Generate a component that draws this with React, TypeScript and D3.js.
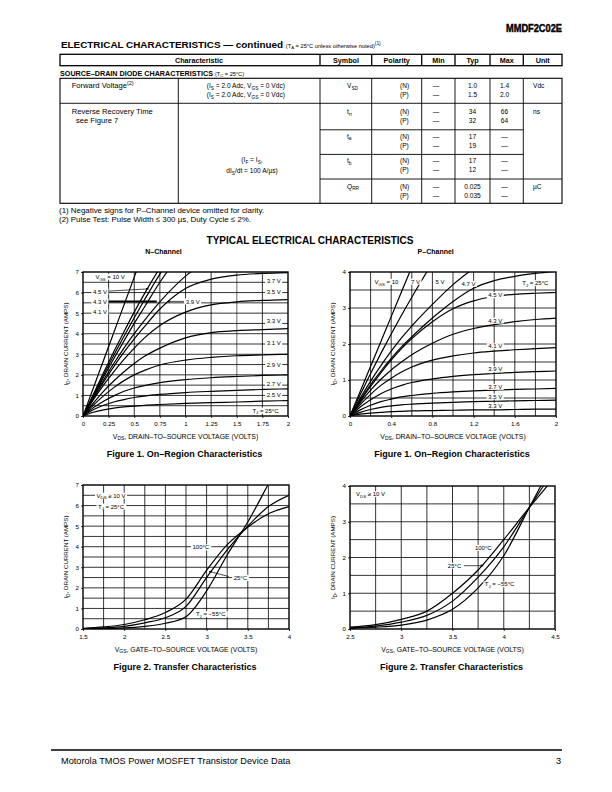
import React, { useEffect, useLayoutEffect, useRef, useState } from 'react'
import * as d3 from 'd3'

const FONT = "'Liberation Sans', Arial, Helvetica, sans-serif"

// Figure 1, N-channel on-region (VDS in volts, ID in amps)
const nOnVds = [0, 0.1, 0.2, 0.3, 0.4, 0.5, 0.6, 0.75, 1.0, 1.25, 1.5, 1.75, 2.0]
const nOn10 = [0, 1.35, 2.7, 4.05, 5.4, 6.75, 8.1]
const nOn45 = [0, 1.05, 2.1, 3.12, 4.1, 5.05, 5.95, 7.2, 9.0]
const nOn43 = [0, 1.0, 1.98, 2.95, 3.88, 4.78, 5.65, 6.9, 8.6]
const nOn41 = [0, 0.95, 1.88, 2.78, 3.65, 4.5, 5.3, 6.5, 8.2]
const nOn39 = [0, 0.9, 1.75, 2.55, 3.3, 4.0, 4.65, 5.55, 6.8, 7.7]
const nOn37 = [0, 0.85, 1.65, 2.4, 3.1, 3.75, 4.35, 5.2, 6.2, 6.65, 6.85, 6.93, 6.97]
const nOn35 = [0, 0.78, 1.5, 2.15, 2.75, 3.3, 3.8, 4.4, 5.05, 5.4, 5.55, 5.62, 5.66]
const nOn33 = [0, 0.62, 1.2, 1.7, 2.15, 2.55, 2.9, 3.3, 3.8, 4.05, 4.15, 4.2, 4.25]
const nOn31 = [0, 0.52, 0.98, 1.38, 1.72, 2.0, 2.22, 2.48, 2.72, 2.85, 2.93, 2.97, 3.0]
const nOn29 = [0, 0.4, 0.72, 0.98, 1.2, 1.36, 1.48, 1.62, 1.77, 1.86, 1.92, 1.97, 2.0]
const nOn27 = [0, 0.3, 0.52, 0.68, 0.8, 0.9, 0.97, 1.05, 1.14, 1.2, 1.25, 1.29, 1.32]
const nOn25 = [0, 0.18, 0.3, 0.38, 0.44, 0.48, 0.52, 0.56, 0.61, 0.65, 0.68, 0.72, 0.75]

// Figure 1, P-channel on-region
const pOnVds = [0, 0.1, 0.2, 0.3, 0.4, 0.5, 0.6, 0.8, 1.0, 1.2, 1.4, 1.6, 1.8, 2.0]
const pOn10 = [0, 0.69, 1.38, 2.07, 2.76, 3.45, 4.14, 5.5]
const pOn7 = [0, 0.6, 1.18, 1.74, 2.28, 2.8, 3.3, 4.25, 5.1]
const pOn5 = [0, 0.5, 0.97, 1.4, 1.8, 2.17, 2.5, 3.1, 3.65, 4.1, 4.5]
const pOn47 = [0, 0.45, 0.87, 1.25, 1.6, 1.92, 2.2, 2.72, 3.18, 3.55, 3.76, 3.88, 3.96, 4.02]
const pOn45 = [0, 0.42, 0.82, 1.2, 1.55, 1.87, 2.15, 2.62, 2.98, 3.2, 3.32, 3.38, 3.41, 3.43]
const pOn43 = [0, 0.38, 0.72, 1.02, 1.28, 1.5, 1.7, 2.02, 2.27, 2.43, 2.54, 2.62, 2.68, 2.72]
const pOn41 = [0, 0.32, 0.6, 0.85, 1.05, 1.22, 1.36, 1.55, 1.67, 1.75, 1.8, 1.84, 1.87, 1.9]
const pOn39 = [0, 0.25, 0.45, 0.62, 0.75, 0.85, 0.93, 1.03, 1.1, 1.15, 1.18, 1.21, 1.23, 1.25]
const pOn37 = [0, 0.17, 0.3, 0.4, 0.47, 0.53, 0.57, 0.63, 0.67, 0.7, 0.72, 0.74, 0.75, 0.77]
const pOn35 = [0, 0.1, 0.18, 0.24, 0.28, 0.31, 0.33, 0.36, 0.38, 0.4, 0.41, 0.42, 0.43, 0.44]
const pOn33 = [0, 0.05, 0.08, 0.1, 0.12, 0.13, 0.14, 0.15, 0.16, 0.17, 0.17, 0.18, 0.19, 0.19]

// Figure 2, transfer characteristics (VGS in volts, ID in amps)
const nTrVgs = [1.5, 1.75, 2.0, 2.25, 2.5, 2.75, 3.0, 3.25, 3.5, 3.75, 4.0]
const nTr100 = [0.03, 0.1, 0.22, 0.45, 0.8, 1.45, 2.85, 4.1, 4.95, 5.6, 5.95]
const nTr25 = [0.01, 0.05, 0.13, 0.3, 0.55, 1.1, 2.5, 3.85, 5.0, 5.95, 6.5]
const nTrM55 = [0.0, 0.02, 0.05, 0.13, 0.28, 0.6, 1.85, 3.6, 5.2, 7.05, 8.9]

const pTrVgs = [2.5, 2.75, 3.0, 3.25, 3.5, 3.75, 4.0, 4.25, 4.5]
const pTr100 = [0.05, 0.12, 0.27, 0.5, 1.0, 1.65, 2.5, 3.4, 4.25]
const pTr25 = [0.03, 0.08, 0.19, 0.38, 0.78, 1.45, 2.3, 3.4, 4.5]
const pTrM55 = [0.02, 0.05, 0.11, 0.25, 0.55, 1.15, 2.05, 3.4, 4.75]

// tick values
const nOnXTicks = [0, 0.25, 0.5, 0.75, 1, 1.25, 1.5, 1.75, 2]
const pOnXTicks = [0, 0.4, 0.8, 1.2, 1.6, 2]
const pOnXGrid = [0.2, 0.4, 0.6, 0.8, 1, 1.2, 1.4, 1.6, 1.8]
const nTrXTicks = [1.5, 2, 2.5, 3, 3.5, 4]
const nTrXGrid = [1.75, 2, 2.25, 2.5, 2.75, 3, 3.25, 3.5, 3.75]
const pTrXTicks = [2.5, 3, 3.5, 4, 4.5]
const pTrXGrid = [2.75, 3, 3.25, 3.5, 3.75, 4, 4.25]
const amps7 = [0, 1, 2, 3, 4, 5, 6, 7]
const amps4 = [0, 1, 2, 3, 4]
const halfAmps7 = [0.5, 1, 1.5, 2, 2.5, 3, 3.5, 4, 4.5, 5, 5.5, 6, 6.5]
const halfAmps4 = [0.5, 1, 1.5, 2, 2.5, 3, 3.5]

// text with _{sub} and ^{sup} markup
function rich(str: string, size: number) {
  const parts: React.ReactNode[] = []
  const re = /([_^])\{([^}]*)\}/g
  let last = 0
  let shift = 0
  let k = 0
  let m: RegExpExecArray | null
  while ((m = re.exec(str))) {
    if (m.index > last) {
      parts.push(<tspan key={k++} dy={-shift}>{str.slice(last, m.index)}</tspan>)
      shift = 0
    }
    const d = m[1] === '_' ? size * 0.28 : -size * 0.38
    parts.push(<tspan key={k++} dy={d - shift} fontSize={size * 0.72}>{m[2]}</tspan>)
    shift = d
    last = re.lastIndex
  }
  if (last < str.length) parts.push(<tspan key={k++} dy={-shift}>{str.slice(last)}</tspan>)
  return parts
}

function T({ x, y, t, size = 6.6, anchor = 'start', bold = false }: any) {
  return (
    <text x={x} y={y} fontSize={size} textAnchor={anchor} fontWeight={bold ? 'bold' : 'normal'} fontFamily={FONT} fill="#000">
      {rich(t, size)}
    </text>
  )
}

function BoxLabel({ x, y, t, size = 6 }: { x: number; y: number; t: string; size?: number }) {
  const ref = useRef<SVGTextElement>(null)
  const [bb, setBb] = useState<{ x: number; w: number } | null>(null)
  useLayoutEffect(() => {
    if (!ref.current) return
    const b = ref.current.getBBox()
    setBb({ x: b.x, w: b.width })
  }, [x, y, t])
  return (
    <g>
      {bb && <rect x={bb.x - 1.5} y={y - size * 0.5} width={bb.w + 3} height={size} fill="#fff" />}
      <text ref={ref} x={x} y={y + size * 0.35} fontSize={size} textAnchor="middle" fontFamily={FONT} fill="#000">
        {rich(t, size)}
      </text>
    </g>
  )
}

function Axis({ scale, orient, at, values }: any) {
  const ref = useRef<SVGGElement>(null)
  useEffect(() => {
    if (!ref.current) return
    const ax = (orient === 'left' ? d3.axisLeft(scale) : d3.axisBottom(scale))
      .tickValues(values)
      .tickFormat((d: d3.NumberValue) => String(+d))
      .tickSize(2)
      .tickPadding(orient === 'left' ? 2 : 4)
    const g = d3.select(ref.current)
    g.call(ax as any)
    g.attr('font-size', 6.2).attr('font-family', FONT)
    g.select('.domain').remove()
    g.selectAll('.tick line').attr('stroke', '#000').attr('stroke-width', 0.8)
    g.selectAll('.tick text').attr('fill', '#000')
  }, [scale, orient, values])
  const tr = orient === 'left' ? `translate(${at},0)` : `translate(0,${at})`
  return <g ref={ref} transform={tr} />
}

interface Curve { x: number[]; y: number[] }
interface Arrow { x1: number; y1: number; x2: number; y2: number; head?: boolean; w?: number }
interface PlotProps {
  id: string
  left: number
  top: number
  width: number
  height: number
  xDomain: [number, number]
  yDomain: [number, number]
  xGrid: number[]
  yGrid: number[]
  xTicks: number[]
  yTicks: number[]
  grayX?: number
  curves: Curve[]
  labels: { t: string; x: number; y: number }[]
  arrows?: Arrow[]
  xTitle: string
  caption: string
}

function Plot(p: PlotProps) {
  const x = d3.scaleLinear().domain(p.xDomain).range([p.left, p.left + p.width])
  const y = d3.scaleLinear().domain(p.yDomain).range([p.top + p.height, p.top])
  const line = d3
    .line<[number, number]>()
    .x((d) => x(d[0]))
    .y((d) => y(d[1]))
    .curve(d3.curveMonotoneX)
  const bottom = p.top + p.height
  const cx = p.left + p.width / 2
  return (
    <g>
      <defs>
        <clipPath id={`clip-${p.id}`}>
          <rect x={p.left} y={p.top} width={p.width} height={p.height} />
        </clipPath>
      </defs>
      {p.xGrid.map((v) => (
        <line key={`gx${v}`} x1={x(v)} x2={x(v)} y1={p.top} y2={bottom}
          stroke={p.grayX === v ? '#9c9c9c' : '#000'} strokeWidth={p.grayX === v ? 1.5 : 0.8} />
      ))}
      {p.yGrid.map((v) => (
        <line key={`gy${v}`} x1={p.left} x2={p.left + p.width} y1={y(v)} y2={y(v)} stroke="#000" strokeWidth={0.8} />
      ))}
      <g clipPath={`url(#clip-${p.id})`}>
        {p.curves.map((c, i) => (
          <path key={i} d={line(c.y.map((v, j) => [c.x[j], v] as [number, number])) ?? ''}
            fill="none" stroke="#000" strokeWidth={1.2} />
        ))}
      </g>
      {(p.arrows ?? []).map((a, i) => (
        <line key={`a${i}`} x1={x(a.x1)} y1={y(a.y1)} x2={x(a.x2)} y2={y(a.y2)} stroke="#000"
          strokeWidth={a.w ?? 0.7} markerEnd={a.head ? 'url(#arrowhead)' : undefined} />
      ))}
      {p.labels.map((l, i) => (
        <BoxLabel key={`l${i}`} x={x(l.x)} y={y(l.y)} t={l.t} />
      ))}
      <rect x={p.left} y={p.top} width={p.width} height={p.height} fill="none" stroke="#000" strokeWidth={1.4} />
      <Axis scale={y} orient="left" at={p.left} values={p.yTicks} />
      <Axis scale={x} orient="bottom" at={bottom} values={p.xTicks} />
      <g transform={`translate(${p.left - 15},${p.top + p.height / 2}) rotate(-90)`}>
        <T x={0} y={0} t="I_{D}, DRAIN CURRENT (AMPS)" size={6.2} anchor="middle" />
      </g>
      <T x={cx} y={bottom + 22.5} t={p.xTitle} size={6.9} anchor="middle" />
      <T x={cx - 1} y={bottom + 40.5} t={p.caption} size={9} anchor="middle" bold />
    </g>
  )
}

function Table() {
  const L = 60
  const R = 562
  const cols = [320, 371.7, 421.7, 455, 490, 523.3]
  const split = 178.3
  const bTop = 78.3
  const bBot = 203.3
  const rows: [string, number, number][] = [
    ['V_{SD}', 85.5, 94.5],
    ['t_{rr}', 111.7, 120.7],
    ['t_{a}', 136.2, 145.2],
    ['t_{b}', 160.8, 169.8],
    ['Q_{RR}', 186.3, 195.5],
  ]
  const typ = [['1.0', '1.5'], ['34', '32'], ['17', '19'], ['17', '12'], ['0.025', '0.035']]
  const max = [['1.4', '2.0'], ['66', '64'], ['—', '—'], ['—', '—'], ['—', '—']]
  const bl = 2.3
  return (
    <g>
      <text x={R} y={32} fontSize={11} textAnchor="end" fontWeight="bold" fontFamily={FONT}
        fill="#000" stroke="#000" strokeWidth={0.45} textLength={56} lengthAdjust="spacingAndGlyphs">MMDF2C02E</text>
      <text x={61} y={47.8} fontFamily={FONT} fill="#000">
        <tspan fontSize={9.9} fontWeight="bold">ELECTRICAL CHARACTERISTICS — continued </tspan>
        <tspan fontSize={5.7}>(T</tspan>
        <tspan fontSize={4.3} dy={1.5}>A</tspan>
        <tspan fontSize={5.7} dy={-1.5}> = 25°C unless otherwise noted)</tspan>
        <tspan fontSize={4.8} dy={-2.4}>(1)</tspan>
      </text>
      <rect x={L} y={54.3} width={R - L} height={11.4} fill="none" stroke="#000" strokeWidth={1.3} />
      {cols.map((c) => (
        <line key={`h${c}`} x1={c} x2={c} y1={54.3} y2={65.7} stroke="#000" strokeWidth={1.3} />
      ))}
      {[
        ['Characteristic', 199],
        ['Symbol', 346],
        ['Polarity', 396.7],
        ['Min', 438.4],
        ['Typ', 472.5],
        ['Max', 506.7],
        ['Unit', 542.7],
      ].map(([t, cx]) => (
        <T key={t as string} x={cx} y={62.8} t={t} size={7.2} anchor="middle" bold />
      ))}
      <text x={L} y={75.6} fontFamily={FONT} fill="#000">
        <tspan fontSize={7.2} fontWeight="bold">SOURCE–DRAIN DIODE CHARACTERISTICS </tspan>
        <tspan fontSize={5.6}>(T</tspan>
        <tspan fontSize={4.2} dy={1.4}>C</tspan>
        <tspan fontSize={5.6} dy={-1.4}> = 25°C)</tspan>
      </text>
      <rect x={L} y={bTop} width={R - L} height={bBot - bTop} fill="none" stroke="#000" strokeWidth={1.1} />
      {[split, ...cols].map((c) => (
        <line key={`v${c}`} x1={c} x2={c} y1={bTop} y2={bBot} stroke="#000" strokeWidth={0.9} />
      ))}
      <line x1={L} x2={R} y1={103.3} y2={103.3} stroke="#000" strokeWidth={0.9} />
      <line x1={320} x2={523.3} y1={129.8} y2={129.8} stroke="#000" strokeWidth={0.9} />
      <line x1={320} x2={523.3} y1={154.4} y2={154.4} stroke="#000" strokeWidth={0.9} />
      <line x1={320} x2={R} y1={179} y2={179} stroke="#000" strokeWidth={0.9} />
      <T x={71.7} y={85.5 + bl} t="Forward Voltage^{(2)}" size={7.6} />
      <T x={206.7} y={85.5 + bl} t="(I_{S} = 2.0 Adc, V_{GS} = 0 Vdc)" />
      <T x={206.7} y={94.5 + bl} t="(I_{S} = 2.0 Adc, V_{GS} = 0 Vdc)" />
      <T x={71.7} y={111.7 + bl} t="Reverse Recovery Time" size={7.6} />
      <T x={76} y={120.7 + bl} t="see Figure 7" size={7.6} />
      <T x={252} y={160 + bl} t="(I_{F} = I_{S}," anchor="middle" />
      <T x={252} y={171 + bl} t="dI_{S}/dt = 100 A/µs)" anchor="middle" />
      {rows.map(([sym, r1, r2], i) => (
        <g key={sym}>
          <T x={347} y={r1 + bl} t={sym} />
          <T x={400} y={r1 + bl} t="(N)" />
          <T x={400} y={r2 + bl} t="(P)" />
          <T x={436} y={r1 + bl} t="—" anchor="middle" />
          <T x={436} y={r2 + bl} t="—" anchor="middle" />
          <T x={472.5} y={r1 + bl} t={typ[i][0]} anchor="middle" />
          <T x={472.5} y={r2 + bl} t={typ[i][1]} anchor="middle" />
          <T x={504.5} y={r1 + bl} t={max[i][0]} anchor="middle" />
          <T x={504.5} y={r2 + bl} t={max[i][1]} anchor="middle" />
        </g>
      ))}
      <T x={533} y={85.5 + bl} t="Vdc" />
      <T x={533} y={111.7 + bl} t="ns" />
      <T x={533} y={186.3 + bl} t="µC" />
      <T x={59} y={212.8} t="(1)  Negative signs for P–Channel device omitted for clarity." size={7.9} />
      <T x={59} y={221.8} t="(2)  Pulse Test: Pulse Width ≤ 300 µs, Duty Cycle ≤ 2%." size={7.9} />
    </g>
  )
}

export default function App() {
  useEffect(() => {
    document.body.style.margin = '0'
  }, [])
  const nOn = [nOn10, nOn45, nOn43, nOn41, nOn39, nOn37, nOn35, nOn33, nOn31, nOn29, nOn27, nOn25]
  const pOn = [pOn10, pOn7, pOn5, pOn47, pOn45, pOn43, pOn41, pOn39, pOn37, pOn35, pOn33]
  return (
    <svg width={612} height={792} viewBox="0 0 612 792" style={{ display: 'block', background: '#fff' }}>
      <defs>
        <marker id="arrowhead" viewBox="0 0 10 10" refX="9" refY="5" markerWidth="5" markerHeight="4" orient="auto">
          <path d="M0,0 L10,5 L0,10 z" fill="#000" />
        </marker>
      </defs>
      <rect width={612} height={792} fill="#fff" />
      <Table />
      <T x={310} y={244} t="TYPICAL ELECTRICAL CHARACTERISTICS" size={10} anchor="middle" bold />
      <T x={163.5} y={253.8} t="N–Channel" size={7} anchor="middle" bold />
      <T x={435.7} y={253.8} t="P–Channel" size={7} anchor="middle" bold />

      <Plot
        id="non"
        left={83} top={272} width={205} height={144}
        xDomain={[0, 2]} yDomain={[0, 7]}
        xGrid={nOnXTicks.slice(1, -1)} yGrid={halfAmps7}
        xTicks={nOnXTicks} yTicks={amps7}
        grayX={1.5}
        curves={nOn.map((v) => ({ x: nOnVds, y: v }))}
        arrows={[
          { x1: 0.245, y1: 6.07, x2: 0.64, y2: 6.18, head: true },
          { x1: 0.245, y1: 5.57, x2: 0.72, y2: 5.57, w: 2 },
          { x1: 1.0, y1: 5.57, x2: 0.82, y2: 5.57, head: true },
        ]}
        labels={[
          { t: 'V_{GS} = 10 V', x: 0.265, y: 6.77 },
          { t: '4.5 V', x: 0.165, y: 6.05 },
          { t: '4.3 V', x: 0.165, y: 5.57 },
          { t: '4.1 V', x: 0.165, y: 5.07 },
          { t: '3.9 V', x: 1.07, y: 5.57 },
          { t: '3.7 V', x: 1.86, y: 6.58 },
          { t: '3.5 V', x: 1.86, y: 6.02 },
          { t: '3.3 V', x: 1.86, y: 4.62 },
          { t: '3.1 V', x: 1.86, y: 3.55 },
          { t: '2.9 V', x: 1.86, y: 2.48 },
          { t: '2.7 V', x: 1.86, y: 1.58 },
          { t: '2.5 V', x: 1.86, y: 1.02 },
          { t: 'T_{J} = 25°C', x: 1.78, y: 0.26 },
        ]}
        xTitle="V_{DS}, DRAIN–TO–SOURCE VOLTAGE (VOLTS)"
        caption="Figure 1. On–Region Characteristics"
      />

      <Plot
        id="pon"
        left={350} top={272} width={206} height={144}
        xDomain={[0, 2]} yDomain={[0, 4]}
        xGrid={pOnXGrid} yGrid={halfAmps4}
        xTicks={pOnXTicks} yTicks={amps4}
        curves={pOn.map((v) => ({ x: pOnVds, y: v }))}
        labels={[
          { t: 'V_{GS} = 10', x: 0.354, y: 3.73 },
          { t: '7 V', x: 0.636, y: 3.73 },
          { t: '5 V', x: 0.874, y: 3.73 },
          { t: '4.7 V', x: 1.15, y: 3.67 },
          { t: 'T_{J} = 25°C', x: 1.8, y: 3.69 },
          { t: '4.5 V', x: 1.41, y: 3.36 },
          { t: '4.3 V', x: 1.41, y: 2.65 },
          { t: '4.1 V', x: 1.41, y: 1.94 },
          { t: '3.9 V', x: 1.41, y: 1.3 },
          { t: '3.7 V', x: 1.41, y: 0.81 },
          { t: '3.5 V', x: 1.41, y: 0.54 },
          { t: '3.3 V', x: 1.41, y: 0.28 },
        ]}
        xTitle="V_{DS}, DRAIN–TO–SOURCE VOLTAGE (VOLTS)"
        caption="Figure 1. On–Region Characteristics"
      />

      <Plot
        id="ntr"
        left={83} top={485} width={206} height={144}
        xDomain={[1.5, 4]} yDomain={[0, 7]}
        xGrid={nTrXGrid} yGrid={halfAmps7}
        xTicks={nTrXTicks} yTicks={amps7}
        curves={[nTr100, nTr25, nTrM55].map((v) => ({ x: nTrVgs, y: v }))}
        arrows={[{ x1: 3.27, y1: 2.55, x2: 3.03, y2: 2.8, head: true }]}
        labels={[
          { t: 'V_{DS} ≥ 10 V', x: 1.84, y: 6.48 },
          { t: 'T_{J} = 25°C', x: 1.84, y: 5.95 },
          { t: '100°C', x: 2.93, y: 3.97 },
          { t: '25°C', x: 3.41, y: 2.49 },
          { t: 'T_{J} = −55°C', x: 3.05, y: 0.72 },
        ]}
        xTitle="V_{GS}, GATE–TO–SOURCE VOLTAGE (VOLTS)"
        caption="Figure 2. Transfer Characteristics"
      />

      <Plot
        id="ptr"
        left={350} top={486} width={205} height={143}
        xDomain={[2.5, 4.5]} yDomain={[0, 4]}
        xGrid={pTrXGrid} yGrid={halfAmps4}
        xTicks={pTrXTicks} yTicks={amps4}
        curves={[pTr100, pTr25, pTrM55].map((v) => ({ x: pTrVgs, y: v }))}
        arrows={[{ x1: 3.61, y1: 1.77, x2: 3.8, y2: 1.77, head: true }]}
        labels={[
          { t: 'V_{DS} ≥ 10 V', x: 2.7, y: 3.77 },
          { t: '100°C', x: 3.8, y: 2.27 },
          { t: '25°C', x: 3.52, y: 1.77 },
          { t: 'T_{J} = −55°C', x: 3.96, y: 1.25 },
        ]}
        xTitle="V_{GS}, GATE–TO–SOURCE VOLTAGE (VOLTS)"
        caption="Figure 2. Transfer Characteristics"
      />

      <line x1={51} x2={562} y1={750} y2={750} stroke="#000" strokeWidth={1.6} />
      <T x={61} y={763.5} t="Motorola TMOS Power MOSFET Transistor Device Data" size={9.2} />
      <T x={561} y={763.5} t="3" size={9.2} anchor="end" />
    </svg>
  )
}
